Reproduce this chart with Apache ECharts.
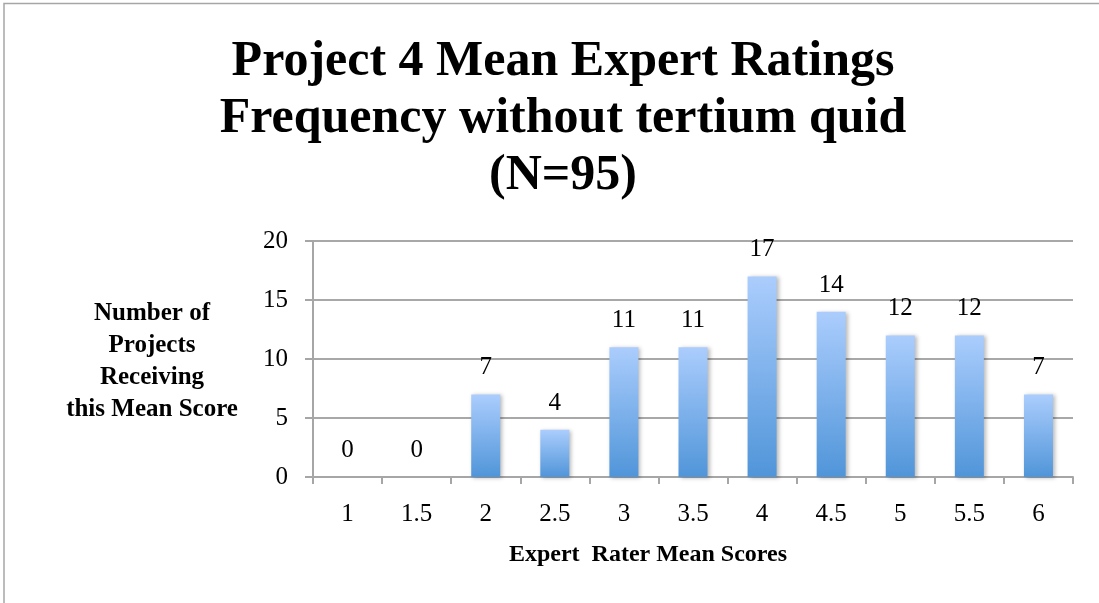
<!DOCTYPE html>
<html>
<head>
<meta charset="utf-8">
<script src="https://cdn.jsdelivr.net/npm/echarts@6/dist/echarts.min.js"></script>
<style>
html,body{margin:0;padding:0;background:#fff;}
#chart{width:1099px;height:603px;}
</style>
</head>
<body>
<div id="chart"></div>
<script>
const titleLines = ['Project 4 Mean Expert Ratings', 'Frequency without tertium quid', '(N=95)'];
const yAxisTitleLines = ['Number of', 'Projects', 'Receiving', 'this Mean Score'];
const xAxisTitle = 'Expert  Rater Mean Scores';
const categories = ['1', '1.5', '2', '2.5', '3', '3.5', '4', '4.5', '5', '5.5', '6'];
const counts = [0, 0, 7, 4, 11, 11, 17, 14, 12, 12, 7];
const yTicks = { min: 0, max: 20, interval: 5 };

const FONT = 'Liberation Serif';
const chart = echarts.init(document.getElementById('chart'), null, { renderer: 'canvas' });
chart.setOption({
  backgroundColor: '#ffffff',
  animation: false,
  graphic: [{
    type: 'rect',
    shape: { x: 4, y: 3.5, width: 1200, height: 700 },
    style: { fill: 'none', stroke: '#a6a6a6', lineWidth: 1.5 },
    silent: true
  }],
  title: [{
    text: titleLines.join('\n'),
    left: 558, top: 29, textAlign: 'center',
    textStyle: { fontFamily: FONT, fontWeight: 'bold', fontSize: 50, lineHeight: 57, color: '#000' }
  }, {
    text: yAxisTitleLines.join('\n'),
    left: 147, top: 293, textAlign: 'center',
    textStyle: { fontFamily: FONT, fontWeight: 'bold', fontSize: 25, lineHeight: 32, color: '#000' }
  }, {
    text: xAxisTitle,
    left: 643, top: 538, textAlign: 'center',
    textStyle: { fontFamily: FONT, fontWeight: 'bold', fontSize: 24, color: '#000' }
  }],
  grid: { left: 313, right: 26, top: 241, bottom: 126, containLabel: false },
  xAxis: {
    type: 'category',
    data: categories,
    boundaryGap: true,
    axisLine: { show: true, lineStyle: { color: '#a6a6a6', width: 2 } },
    axisTick: { show: true, alignWithLabel: false, length: 7, lineStyle: { color: '#a6a6a6', width: 2 } },
    axisLabel: { margin: 25, fontFamily: FONT, fontSize: 25, color: '#000' },
    splitLine: { show: false }
  },
  yAxis: {
    type: 'value',
    min: yTicks.min, max: yTicks.max, interval: yTicks.interval,
    axisLine: { show: true, lineStyle: { color: '#a6a6a6', width: 2 } },
    axisTick: { show: true, length: 8, lineStyle: { color: '#a6a6a6', width: 2 } },
    axisLabel: { margin: 25, fontFamily: FONT, fontSize: 25, color: '#000' },
    splitLine: { show: true, lineStyle: { color: '#a8a8a8', width: 2 } }
  },
  series: [{
    type: 'bar',
    data: counts,
    barWidth: 29,
    itemStyle: {
      color: new echarts.graphic.LinearGradient(0, 0, 0, 1, [
        { offset: 0, color: '#abcdfd' },
        { offset: 1, color: '#5095d9' }
      ]),
      shadowColor: 'rgba(0,0,0,0.28)', shadowBlur: 4, shadowOffsetX: 2, shadowOffsetY: 1
    },
    label: {
      show: true, position: 'top', distance: 14,
      fontFamily: FONT, fontSize: 25, color: '#000'
    }
  }]
});
</script>
</body>
</html>
